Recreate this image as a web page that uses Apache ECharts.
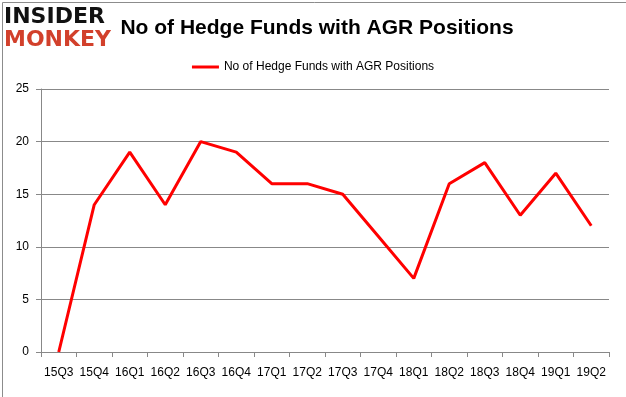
<!DOCTYPE html>
<html>
<head>
<meta charset="utf-8">
<script src="https://cdn.jsdelivr.net/npm/echarts@6/dist/echarts.min.js"></script>
<style>
html,body{margin:0;padding:0;background:#fff;}
#main{width:626px;height:397px;}
</style>
</head>
<body>
<div id="main"></div>
<script>
// quarters and fund counts
var quarters=["15Q3","15Q4","16Q1","16Q2","16Q3","16Q4","17Q1","17Q2","17Q3","17Q4","18Q1","18Q2","18Q3","18Q4","19Q1","19Q2"];
var funds=[0,14,19,14,20,19,16,16,15,11,7,16,18,13,17,12];
var seriesName="No of Hedge Funds with AGR Positions";

var myChart=echarts.init(document.getElementById('main'));
var option={
	animation:false,
	title:{
		text:seriesName,
		left:312,
		top:13,
		textAlign:'center',
		textStyle:{fontFamily:'Liberation Sans',fontSize:21,fontWeight:'bold',color:'#000'}
	},
	legend:{
		data:[seriesName],
		top:56,
		left:'center',
		itemWidth:27,
		itemHeight:3,
		itemGap:4,
		icon:'rect',
		textStyle:{fontFamily:'Liberation Sans',fontSize:12,color:'#000'}
	},
	graphic:[
		{type:'rect',left:0,top:0,shape:{width:625,height:396},style:{fill:'none',stroke:'#8c8c8c',lineWidth:1}},
		{type:'text',left:4,top:6,style:{text:'INSIDER',font:'bold 22px "DejaVu Sans"',fill:'#111'}},
		{type:'text',left:4,top:29,style:{text:'MONKEY',font:'bold 22px "DejaVu Sans"',fill:'#d2402b'}}
	],
	grid:{left:41,right:17,top:89,bottom:45},
	xAxis:{
		type:'category',
		data:quarters,
		boundaryGap:true,
		axisLine:{lineStyle:{color:'#888'}},
		axisTick:{show:true,interval:0,length:5,lineStyle:{color:'#888'}},
		axisLabel:{interval:0,margin:15,fontFamily:'Liberation Sans',fontSize:12,color:'#000'}
	},
	yAxis:{
		type:'value',
		min:0,max:25,interval:5,
		axisLine:{show:true,lineStyle:{color:'#888'}},
		axisTick:{show:true,length:5,lineStyle:{color:'#888'}},
		splitLine:{lineStyle:{color:'#888'}},
		axisLabel:{margin:12,fontFamily:'Liberation Sans',fontSize:12,color:'#000'}
	},
	series:[{
		name:seriesName,
		type:'line',
		data:funds,
		symbol:'none',
		lineStyle:{color:'#ff0000',width:3},
		itemStyle:{color:'#ff0000'}
	}]
};
myChart.setOption(option);
</script>
</body>
</html>
